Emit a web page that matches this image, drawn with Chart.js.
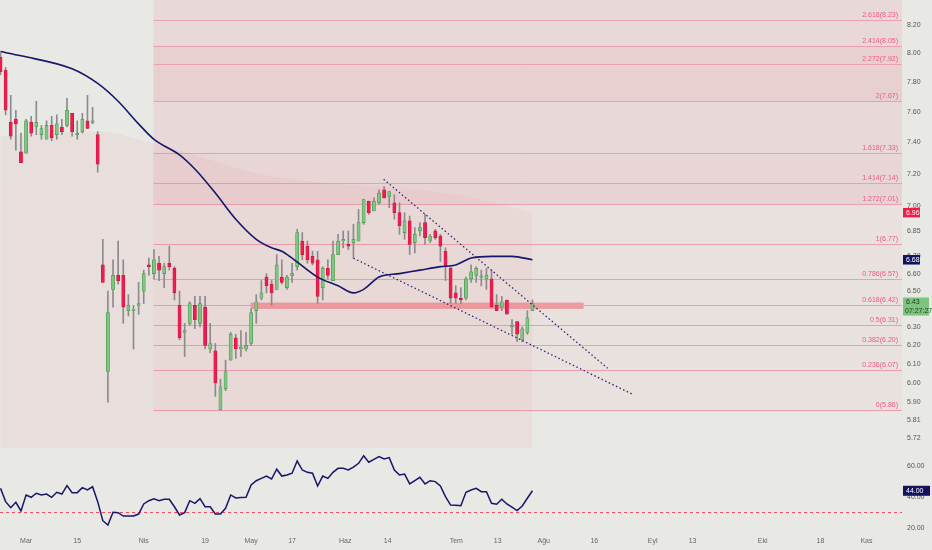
<!DOCTYPE html>
<html>
<head>
<meta charset="utf-8">
<script src="https://cdn.jsdelivr.net/npm/chart.js@4.4.1/dist/chart.umd.min.js"></script>
<style>
  html, body { margin: 0; padding: 0; background: #e8e8e4; }
  #wrap { position: relative; width: 932px; height: 550px; overflow: hidden; }
  #main { position: absolute; left: 0; top: 0; }
  #rsi { position: absolute; left: 0; top: 448px; }
</style>
</head>
<body>
<div id="wrap">
  <canvas id="main" width="932" height="448"></canvas>
  <canvas id="rsi" width="932" height="102"></canvas>
</div>
<script>
// daily candles
const opens  = [7.97,7.88,7.53,7.55,7.34,7.33,7.53,7.50,7.45,7.42,7.51,7.45,7.50,7.51,7.59,7.45,7.47,7.54,7.53,7.45,
                6.65,6.06,6.51,6.59,6.59,6.39,6.39,6.42,6.50,6.65,6.60,6.66,6.60,6.66,6.63,6.42,6.27,6.32,6.42,6.32,
                6.41,6.18,6.17,5.86,5.97,6.12,6.24,6.18,6.18,6.21,6.39,6.46,6.58,6.54,6.51,6.58,6.52,6.59,6.64,6.79,
                6.76,6.70,6.68,6.52,6.63,6.56,6.71,6.79,6.77,6.78,6.79,6.90,7.03,6.97,7.02,7.10,7.06,7.02,6.96,6.84,
                6.91,6.78,6.85,6.90,6.79,6.85,6.82,6.73,6.63,6.49,6.46,6.46,6.57,6.59,6.58,6.57,6.57,6.42,6.41,6.45,
                6.30,6.33,6.23,6.27,6.39];
const highs  = [8.00,7.90,7.71,7.61,7.46,7.55,7.57,7.67,7.51,7.54,7.57,7.58,7.55,7.69,7.59,7.54,7.59,7.71,7.63,7.47,
                6.80,6.50,6.68,6.79,6.68,6.48,6.42,6.55,6.62,6.69,6.74,6.70,6.66,6.76,6.64,6.50,6.32,6.44,6.47,6.47,
                6.47,6.32,6.21,6.02,6.12,6.27,6.26,6.28,6.27,6.40,6.48,6.56,6.60,6.56,6.71,6.68,6.59,6.66,6.86,6.84,
                6.79,6.73,6.73,6.64,6.68,6.79,6.83,6.85,6.85,6.89,6.98,7.04,7.03,7.05,7.10,7.12,7.09,7.07,7.02,6.96,
                6.94,6.87,6.90,6.95,6.83,6.86,6.83,6.75,6.64,6.53,6.52,6.58,6.65,6.64,6.62,6.63,6.62,6.48,6.47,6.45,
                6.34,6.33,6.30,6.39,6.45];
const lows   = [7.85,7.58,7.42,7.35,7.27,7.33,7.44,7.45,7.42,7.42,7.41,7.42,7.45,7.50,7.44,7.42,7.46,7.49,7.52,7.21,
                6.55,5.90,6.41,6.54,6.32,6.36,6.18,6.37,6.43,6.59,6.57,6.56,6.52,6.62,6.45,6.23,6.14,6.31,6.29,6.30,
                6.18,6.16,5.93,5.86,5.96,6.12,6.13,6.14,6.17,6.20,6.32,6.45,6.49,6.42,6.51,6.54,6.51,6.55,6.62,6.68,
                6.66,6.65,6.43,6.45,6.57,6.56,6.71,6.75,6.74,6.69,6.79,6.89,6.95,6.97,7.01,7.05,6.99,6.92,6.83,6.80,
                6.71,6.72,6.82,6.77,6.78,6.80,6.67,6.56,6.43,6.43,6.43,6.45,6.55,6.55,6.53,6.51,6.41,6.39,6.39,6.37,
                6.26,6.22,6.22,6.26,6.39];
const closes = [7.87,7.61,7.44,7.52,7.27,7.54,7.46,7.53,7.49,7.51,7.43,7.52,7.47,7.61,7.47,7.46,7.55,7.49,7.54,7.26,
                6.55,6.38,6.59,6.56,6.41,6.42,6.39,6.43,6.60,6.64,6.68,6.62,6.64,6.64,6.49,6.24,6.28,6.43,6.34,6.43,
                6.20,6.21,6.00,5.98,6.06,6.26,6.18,6.19,6.20,6.38,6.44,6.49,6.53,6.49,6.65,6.55,6.58,6.60,6.84,6.71,
                6.68,6.66,6.47,6.63,6.59,6.71,6.79,6.80,6.76,6.80,6.90,7.04,6.96,7.03,7.08,7.05,7.09,6.96,6.88,6.91,
                6.77,6.83,6.87,6.81,6.82,6.81,6.76,6.64,6.46,6.46,6.45,6.57,6.61,6.63,6.58,6.59,6.41,6.39,6.44,6.37,
                6.31,6.26,6.29,6.35,6.43];

// moving average (navy), sampled along the line
const maIndex  = [0,4,14,19,23,27,30,35,38,42,46,50,53,55,57,62,66,69,71,74,78,82,86,89,92,96,100,104];
const maValues = [8.01,7.98,7.89,7.79,7.67,7.52,7.42,7.32,7.23,7.08,6.92,6.80,6.75,6.73,6.69,6.58,6.53,6.49,6.51,6.58,
                  6.60,6.62,6.64,6.65,6.69,6.70,6.70,6.68];

// long average with area fill below it
const bandIndex  = [0,19,29,39,49,59,68,78,85,91,98,104];
const bandValues = [7.44,7.47,7.40,7.31,7.21,7.16,7.13,7.11,7.09,7.06,7.01,6.96];

// RSI, one value per candle
const rsiValues = [45.6,37,33.1,36.6,31,41.3,39.8,42.4,41.3,41.9,39.8,43,41.9,47.3,42.8,42.8,46,44.5,46.6,37,
                   24.7,21.9,30.1,29.9,27.7,27.7,27.7,29,35.5,37.6,38.9,37.6,38.5,38.5,33.7,28.4,29.9,37.6,35.9,38.9,
                   33.7,33.7,29,29,32.7,41.3,39.4,39.6,39.8,47.7,50.5,52,53.5,51.6,57.9,53.5,54.2,55.3,63.2,57.4,
                   55.9,55.3,47.1,53.5,52,55.9,58.5,58.5,57.4,59.2,61.7,66.6,62.4,64.3,66,64.5,65.4,57.4,54.2,54.8,
                   48.4,50.5,52.7,48.4,50.5,49.9,47.1,40.2,34.8,34.6,34.4,43,44.5,45.6,43.4,43.4,35.9,35.3,38.5,35.5,
                   33.4,31.2,34.2,39.2,44.0];
const rsiLevel = 30;

// fibonacci levels
const fibRatios = [0,0.236,0.382,0.5,0.618,0.786,1,1.272,1.414,1.618,2,2.272,2.414,2.618];
const fibPrices = [5.86,6.07,6.20,6.31,6.42,6.57,6.77,7.01,7.14,7.33,7.67,7.92,8.05,8.23];
const fibFrom = 29.9;

// support zone and wedge trendlines (bar index, price)
const zonePrices = [6.40, 6.435];
const zoneBars = [48.9, 114];
const upperWedge = [[74.9, 7.166], [118.7, 6.077]];
const lowerWedge = [[69.0, 6.689], [123.8, 5.938]];

// axes
const priceTicks = [8.2,8.0,7.8,7.6,7.4,7.2,7.0,6.85,6.7,6.6,6.5,6.4,6.3,6.2,6.1,6.0,5.9,5.81,5.72];
const rsiTicks = [60, 40, 20];
const timeTickIndex  = [5,15,28,40,49,57,67.4,75.7,89.1,97.2,106.2,116.1,127.5,135.3,149,160.3,169.3];
const timeTickLabels = ['Mar','15','Nis','19','May','17','Haz','14','Tem','13','Ağu','16','Eyl','13','Eki','18','Kas'];
const countdown = '07:27:27';

const X_MIN = -0.1, X_MAX = 176.25;
const FONT = 'Liberation Sans';
Chart.defaults.font.family = FONT;

const fibBandAlpha = [0.045,0.045,0.045,0.045,0.045,0.045,0.045,0.12,0.11,0.09,0.14,0.14,0.09,0.09];
const upFill = '#7fc683', upLine = '#4a9a4f', downFill = '#ee1c50', downLine = '#d0153f';
const navy = '#16166b';
const isUp = i => closes[i] >= opens[i];
const bars = closes.map((_, i) => i);

function noPad(s) { s.paddingTop = 0; s.paddingBottom = 0; s.paddingLeft = 0; s.paddingRight = 0; }

const fibPlugin = {
  id: 'fib',
  beforeDatasetsDraw(chart) {
    const { ctx, chartArea: a, scales: { x, y } } = chart;
    const x0 = x.getPixelForValue(fibFrom);
    ctx.save();
    ctx.beginPath();
    ctx.rect(a.left, a.top, a.right - a.left, a.bottom - a.top);
    ctx.clip();
    for (let k = 0; k < fibPrices.length; k++) {
      const yb = y.getPixelForValue(fibPrices[k]);
      const yt = k + 1 < fibPrices.length ? y.getPixelForValue(fibPrices[k + 1]) : a.top;
      ctx.fillStyle = `rgba(236,64,100,${fibBandAlpha[k]})`;
      ctx.fillRect(x0, yt, a.right - x0, yb - yt);
    }
    // support zone
    const zt = y.getPixelForValue(zonePrices[1]), zb = y.getPixelForValue(zonePrices[0]);
    const zl = x.getPixelForValue(zoneBars[0]), zr = x.getPixelForValue(zoneBars[1]);
    ctx.fillStyle = 'rgba(240,70,80,0.45)';
    ctx.fillRect(zl, zt, zr - zl, zb - zt);
    ctx.strokeStyle = '#eba0b2';
    ctx.lineWidth = 1;
    ctx.font = `7px "${FONT}"`;
    ctx.textAlign = 'right';
    ctx.textBaseline = 'bottom';
    ctx.fillStyle = '#ea5a80';
    fibPrices.forEach((p, k) => {
      const yy = Math.round(y.getPixelForValue(p)) + 0.5;
      ctx.beginPath();
      ctx.moveTo(x0, yy);
      ctx.lineTo(a.right, yy);
      ctx.stroke();
      ctx.fillText(`${fibRatios[k]}(${p.toFixed(2)})`, a.right - 4, yy - 2);
    });
    ctx.restore();
  }
};

function tag(ctx, left, yc, w, h, bg, fg, lines) {
  ctx.fillStyle = bg;
  ctx.fillRect(left, yc - h / 2, w, h);
  ctx.fillStyle = fg;
  ctx.font = `7px "${FONT}"`;
  ctx.textAlign = 'left';
  ctx.textBaseline = 'middle';
  if (lines.length === 1) {
    ctx.fillText(lines[0], left + 3, yc);
  } else {
    ctx.fillText(lines[0], left + 3, yc - 4);
    ctx.fillText(lines[1], left + 2, yc + 4.5);
  }
}

const priceTags = {
  id: 'priceTags',
  afterDraw(chart) {
    const { ctx, chartArea: a, scales: { y } } = chart;
    const l = a.right + 1;
    const last = closes.length - 1;
    ctx.save();
    tag(ctx, l, y.getPixelForValue(bandValues[bandValues.length - 1]), 17, 9.5, '#f01c45', '#ffffff', [bandValues[bandValues.length - 1].toFixed(2)]);
    tag(ctx, l, y.getPixelForValue(maValues[maValues.length - 1]), 17, 9.5, '#12125e', '#ffffff', [maValues[maValues.length - 1].toFixed(2)]);
    const yc = y.getPixelForValue(closes[last]);
    ctx.fillStyle = '#7dc47f';
    ctx.fillRect(l, yc - 6, 26, 18);
    ctx.fillStyle = '#1e3a1e';
    ctx.font = `7px "${FONT}"`;
    ctx.textAlign = 'left';
    ctx.textBaseline = 'middle';
    ctx.fillText(closes[last].toFixed(2), l + 3, yc - 1);
    ctx.fillText(countdown, l + 2, yc + 7.5);
    ctx.restore();
  }
};

const rsiTag = {
  id: 'rsiTag',
  afterDraw(chart) {
    const { ctx, chartArea: a, scales: { y } } = chart;
    const v = rsiValues[rsiValues.length - 1];
    ctx.save();
    tag(ctx, a.right + 1, y.getPixelForValue(v), 27, 10, '#12125e', '#ffffff', [v.toFixed(2)]);
    ctx.restore();
  }
};

new Chart(document.getElementById('main'), {
  type: 'bar',
  data: {
    datasets: [
      { type: 'line', data: upperWedge.map(([x, y]) => ({ x, y })), borderColor: '#26267a', borderWidth: 1.3,
        borderDash: [1.5, 2.5], pointRadius: 0, order: 0 },
      { type: 'line', data: lowerWedge.map(([x, y]) => ({ x, y })), borderColor: '#26267a', borderWidth: 1.3,
        borderDash: [1.5, 2.5], pointRadius: 0, order: 0 },
      { type: 'line', data: maIndex.map((x, i) => ({ x, y: maValues[i] })), borderColor: navy, borderWidth: 1.6,
        pointRadius: 0, cubicInterpolationMode: 'monotone', order: 1 },
      { data: bars.map(i => ({ x: i, y: [Math.min(opens[i], closes[i]), Math.max(opens[i], closes[i])] })),
        backgroundColor: c => isUp(c.dataIndex) ? upFill : downFill,
        borderColor: c => isUp(c.dataIndex) ? upLine : downLine,
        borderWidth: 0.7, borderSkipped: false, barThickness: 3.2, minBarLength: 1.2, grouped: false, order: 2 },
      { data: bars.map(i => ({ x: i, y: [lows[i], highs[i]] })), backgroundColor: '#8b8b8e',
        barThickness: 1, grouped: false, order: 3 },
      { type: 'line', data: bandIndex.map((x, i) => ({ x, y: bandValues[i] })), borderWidth: 0,
        borderColor: 'rgba(0,0,0,0)', backgroundColor: 'rgba(242,54,69,0.05)', fill: 'start',
        pointRadius: 0, cubicInterpolationMode: 'monotone', order: 10 }
    ]
  },
  options: {
    responsive: false, animation: false, events: [],
    layout: { padding: 0 },
    plugins: { legend: { display: false }, tooltip: { enabled: false } },
    scales: {
      x: { type: 'linear', min: X_MIN, max: X_MAX, offset: false, display: false },
      y: {
        type: 'logarithmic', position: 'right', min: 5.669, max: 8.378,
        afterBuildTicks: s => { s.ticks = priceTicks.map(v => ({ value: v })); },
        afterFit: s => { s.width = 30; noPad(s); },
        grid: { display: false, drawTicks: false }, border: { display: false },
        ticks: { padding: 5, color: '#555', font: { size: 7 }, autoSkip: false, callback: v => Number(v).toFixed(2) }
      }
    }
  },
  plugins: [fibPlugin, priceTags]
});

new Chart(document.getElementById('rsi'), {
  type: 'line',
  data: {
    datasets: [
      { data: rsiValues.map((v, i) => ({ x: i, y: v })), borderColor: navy, borderWidth: 1.5, pointRadius: 0 },
      { data: [{ x: X_MIN, y: rsiLevel }, { x: X_MAX, y: rsiLevel }], borderColor: '#f04a5e', borderWidth: 1,
        borderDash: [3, 3], pointRadius: 0 }
    ]
  },
  options: {
    responsive: false, animation: false, events: [],
    layout: { padding: 0 },
    plugins: { legend: { display: false }, tooltip: { enabled: false } },
    scales: {
      x: {
        type: 'linear', min: X_MIN, max: X_MAX, offset: false,
        afterBuildTicks: s => { s.ticks = timeTickIndex.map(v => ({ value: v })); },
        afterFit: s => { s.height = 20; noPad(s); },
        grid: { display: false, drawTicks: false }, border: { display: false },
        ticks: { padding: 7, color: '#666', font: { size: 7 }, autoSkip: false, maxRotation: 0,
                 callback: (v, i) => timeTickLabels[i] }
      },
      y: {
        position: 'right', min: 18.7, max: 71.6,
        afterBuildTicks: s => { s.ticks = rsiTicks.map(v => ({ value: v })); },
        afterFit: s => { s.width = 30; noPad(s); },
        grid: { display: false, drawTicks: false }, border: { display: false },
        ticks: { padding: 5, color: '#555', font: { size: 7 }, autoSkip: false, callback: v => Number(v).toFixed(2) }
      }
    }
  },
  plugins: [rsiTag]
});
</script>
</body>
</html>
